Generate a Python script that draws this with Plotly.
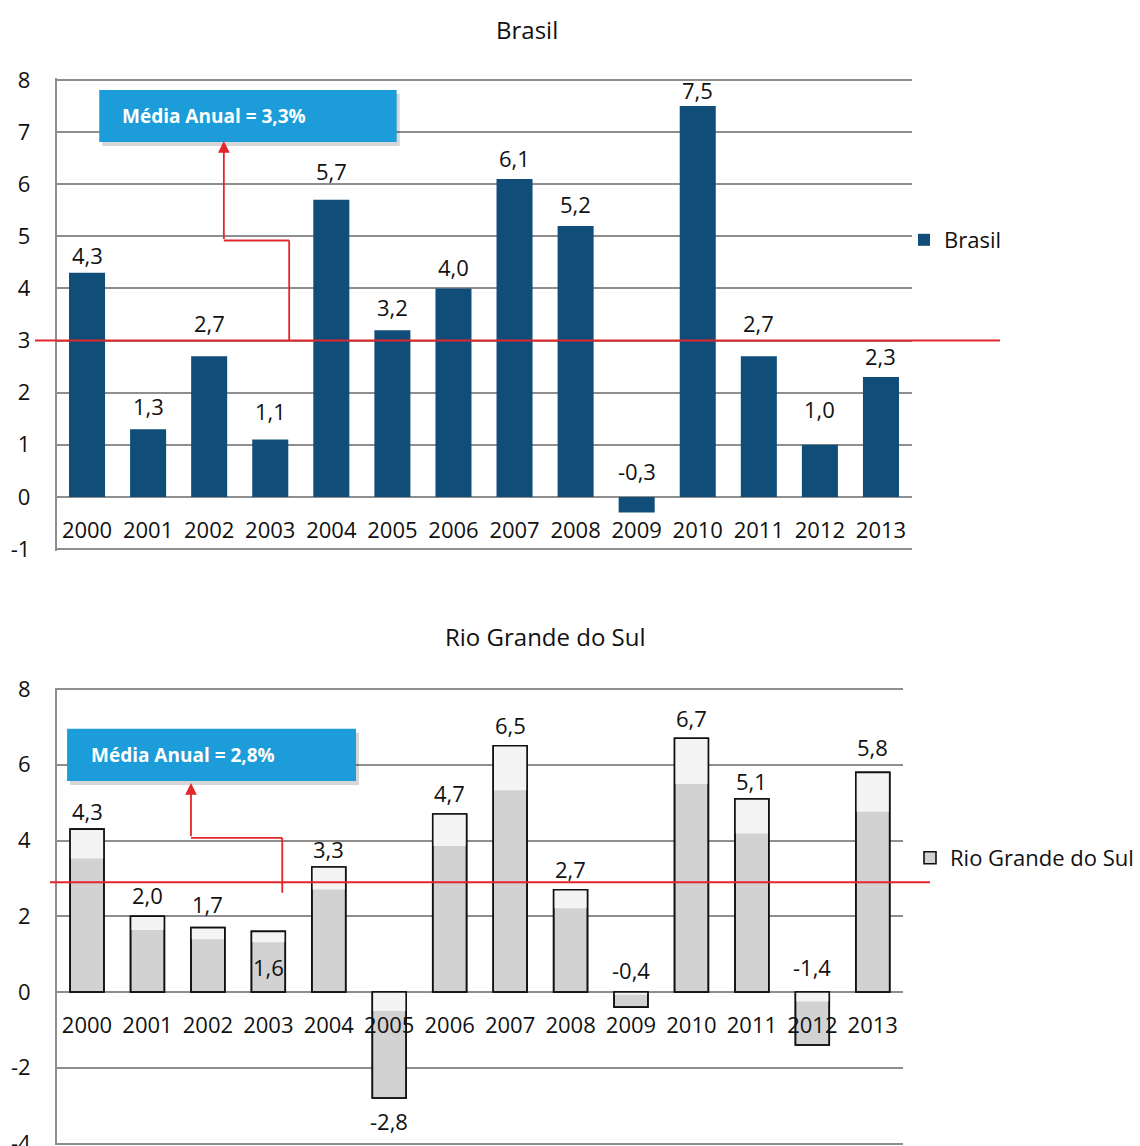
import plotly.graph_objects as go

# Annual GDP growth (%), Brasil vs Rio Grande do Sul
years = ["2000", "2001", "2002", "2003", "2004", "2005", "2006",
         "2007", "2008", "2009", "2010", "2011", "2012", "2013"]
brasil = [4.3, 1.3, 2.7, 1.1, 5.7, 3.2, 4.0, 6.1, 5.2, -0.3, 7.5, 2.7, 1.0, 2.3]
rs = [4.3, 2.0, 1.7, 1.6, 3.3, -2.8, 4.7, 6.5, 2.7, -0.4, 6.7, 5.1, -1.4, 5.8]

brasil_media = 3.3
rs_media = 2.8
# level of the red guide line drawn across each panel
brasil_guide = 3.0
rs_guide = 2.9

brasil_ticks = [-1, 0, 1, 2, 3, 4, 5, 6, 7, 8]
rs_ticks = [-4, -2, 0, 2, 4, 6, 8]

W, H = 1140, 1146
FONT = "Open Sans"
GRID = "#8E8E8E"
RED = "#E3262B"
BOX = "#1C9DD9"
INK = "#111111"

# extra lift (px) of individual value labels above their bars
brasil_label_lift = {"2001": 5, "2002": 15, "2003": 11, "2004": 11, "2005": 5,
                     "2006": 3, "2007": 3, "2008": 4, "2010": -2, "2011": 15,
                     "2012": 18, "2013": 3}
rs_label_lift = {"2001": 3, "2002": 6, "2006": 3, "2007": 3, "2008": 3,
                 "2010": 2, "2013": 7}


def fmt(v):
    return f"{v:.1f}".replace(".", ",")


def px_x(p):
    return p / W


def px_y(p):
    return 1 - p / H


# panel geometry: pixel rows of the top and bottom ticks, plus a small pad so
# the edge grid lines are kept
def panel(top_px, bottom_px, lo, hi, pad=2):
    unit = (bottom_px - top_px) / (hi - lo)
    dom = [px_y(bottom_px + pad), px_y(top_px - pad)]
    rng = [lo - pad / unit, hi + pad / unit]
    return dom, rng, unit


top_y, top_range, top_unit = panel(80, 549, -1, 8)
bot_y, bot_range, bot_unit = panel(689, 1143.5, -4, 8, pad=1.5)
top_x = [px_x(56.5), px_x(911.5)]
bot_x = [px_x(56.8), px_x(903)]


def zero_pos(dom, rng):
    return dom[0] + (dom[1] - dom[0]) * (0 - rng[0]) / (rng[1] - rng[0])


fig = go.Figure()

fig.add_trace(go.Bar(
    x=years, y=brasil, name="Brasil", xaxis="x", yaxis="y",
    width=0.59, marker=dict(color="#104D79", line=dict(width=0)),
    legend="legend",
))

# RS bars: grey body, a pale band at the top of each bar, then the outline
RS_W = 0.56
fig.add_trace(go.Bar(
    x=years, y=rs, name="Rio Grande do Sul", xaxis="x2", yaxis="y2",
    width=RS_W, marker=dict(color="#D2D2D2", line=dict(color=INK, width=1.6)),
    legend="legend2",
))
band = 0.18
fig.add_trace(go.Bar(
    x=years,
    y=[abs(v) * band * (1 if v > 0 else -1) for v in rs],
    base=[v * (1 - band) if v > 0 else 0 for v in rs],
    xaxis="x2", yaxis="y2", width=RS_W, showlegend=False, hoverinfo="skip",
    marker=dict(color="#F4F4F4", line=dict(width=0)),
))
fig.add_trace(go.Bar(
    x=years, y=rs, xaxis="x2", yaxis="y2", width=RS_W, showlegend=False,
    hoverinfo="skip",
    marker=dict(color="rgba(0,0,0,0)", line=dict(color=INK, width=1.6)),
))

axis_font = dict(family=FONT, size=22, color=INK)

common_x = dict(type="category", showgrid=False, showline=False, zeroline=False,
                ticks="outside", ticklen=14, tickcolor="rgba(0,0,0,0)",
                tickfont=axis_font, anchor="free", fixedrange=True)
common_y = dict(showgrid=True, gridcolor=GRID, gridwidth=1.5, showline=True,
                linecolor=GRID, linewidth=1.5, zeroline=False, ticks="outside",
                ticklen=20, tickcolor="rgba(0,0,0,0)", tickfont=axis_font,
                tickmode="array", ticklabeloverflow="allow", fixedrange=True)

fig.update_layout(
    width=W, height=H, margin=dict(l=0, r=0, t=0, b=0, autoexpand=False),
    paper_bgcolor="white", plot_bgcolor="white", barmode="overlay",
    font=dict(family=FONT, color=INK),
    xaxis=dict(domain=top_x, position=zero_pos(top_y, top_range),
               range=[-0.5, len(years) - 0.5], **common_x),
    yaxis=dict(domain=top_y, range=top_range, anchor="x", tickvals=brasil_ticks,
               ticktext=[str(t) for t in brasil_ticks], **common_y),
    xaxis2=dict(domain=bot_x, position=zero_pos(bot_y, bot_range),
                range=[-0.5, len(years) - 0.5], **common_x),
    yaxis2=dict(domain=bot_y, range=bot_range, anchor="x2", tickvals=rs_ticks,
                ticktext=[str(t) for t in rs_ticks], **common_y),
    legend=dict(x=px_x(904), y=px_y(240), xanchor="left", yanchor="middle",
                font=dict(family=FONT, size=22, color=INK),
                bgcolor="rgba(0,0,0,0)", itemwidth=30),
    legend2=dict(x=px_x(910), y=px_y(858), xanchor="left", yanchor="middle",
                 font=dict(family=FONT, size=22, color=INK),
                 bgcolor="rgba(0,0,0,0)", itemwidth=30),
    showlegend=True,
)

annotations = []
shapes = []

# panel titles
annotations.append(dict(text="Brasil", x=px_x(527), y=px_y(30), xref="paper",
                        yref="paper", yanchor="middle", showarrow=False,
                        font=dict(family=FONT, size=24, color=INK)))
annotations.append(dict(text="Rio Grande do Sul", x=px_x(545), y=px_y(636),
                        xref="paper", yref="paper", yanchor="middle", showarrow=False,
                        font=dict(family=FONT, size=24, color=INK)))


def value_labels(values, xref, yref, lift, near_axis, below_bar):
    for i, (yr, v) in enumerate(zip(years, values)):
        a = dict(text=fmt(v), x=i, xref=xref, yref=yref, showarrow=False,
                 font=dict(family=FONT, size=22, color=INK))
        if yr in below_bar:
            a.update(y=v, yanchor="top", yshift=-6)
        elif yr in near_axis:
            a.update(y=0, yanchor="bottom", yshift=near_axis[yr])
        else:
            a.update(y=max(v, 0), yanchor="bottom", yshift=1 + lift.get(yr, 0))
        annotations.append(a)


value_labels(brasil, "x", "y", brasil_label_lift, near_axis={"2009": 9},
             below_bar=set())
value_labels(rs, "x2", "y2", rs_label_lift,
             near_axis={"2003": 8, "2009": 5, "2012": 8}, below_bar={"2005"})


def media_callout(xref, yref, guide, box, stem, bend_y, head_x, tip_y, line_x, unit):
    x_left, x_right, y_low, y_high = box
    # red guide line across the panel
    shapes.append(dict(type="line", xref="paper", yref=yref, x0=line_x[0], x1=line_x[1],
                       y0=guide, y1=guide, line=dict(color=RED, width=2), layer="above"))
    # soft shadow and blue box
    off = 4 / unit
    shapes.append(dict(type="rect", xref=xref, yref=yref, x0=x_left + 0.05,
                       x1=x_right + 0.05, y0=y_low - off, y1=y_high - off,
                       fillcolor="rgba(0,0,0,0.16)", line=dict(width=0), layer="above"))
    shapes.append(dict(type="rect", xref=xref, yref=yref, x0=x_left, x1=x_right,
                       y0=y_low, y1=y_high, fillcolor=BOX, line=dict(width=0),
                       layer="above"))
    # stepped connector ending in an arrow head under the box
    seg = dict(xref=xref, yref=yref, type="line", line=dict(color=RED, width=1.8),
               layer="above")
    shapes.append(dict(seg, x0=stem[0], x1=stem[0], y0=stem[1], y1=bend_y))
    shapes.append(dict(seg, x0=stem[0], x1=head_x, y0=bend_y, y1=bend_y))
    annotations.append(dict(text="", x=head_x, y=tip_y, xref=xref, yref=yref,
                            ax=head_x, ay=bend_y, axref=xref, ayref=yref, showarrow=True,
                            arrowhead=2, arrowsize=1.3, arrowwidth=1.8, arrowcolor=RED,
                            standoff=0))


media_callout("x", "y", brasil_guide, (0.2, 5.07, 6.81, 7.81),
              (3.31, brasil_guide), 4.92, 2.24, 6.83, [px_x(35), px_x(1000)], top_unit)
annotations.append(dict(text=f"<b>Média Anual = {fmt(brasil_media)}%</b>", x=0.54,
                        y=7.31, xref="x", yref="y", xanchor="left", showarrow=False,
                        font=dict(family=FONT, size=19, color="white")))

media_callout("x2", "y2", rs_guide, (-0.33, 4.45, 5.57, 6.95),
              (3.23, 2.62), 4.07, 1.72, 5.52, [px_x(50), px_x(930)], bot_unit)
annotations.append(dict(text=f"<b>Média Anual = {fmt(rs_media)}%</b>", x=0.03,
                        y=6.26, xref="x2", yref="y2", xanchor="left", showarrow=False,
                        font=dict(family=FONT, size=19, color="white")))

fig.update_layout(annotations=annotations, shapes=shapes)

fig.write_html("out.html")
